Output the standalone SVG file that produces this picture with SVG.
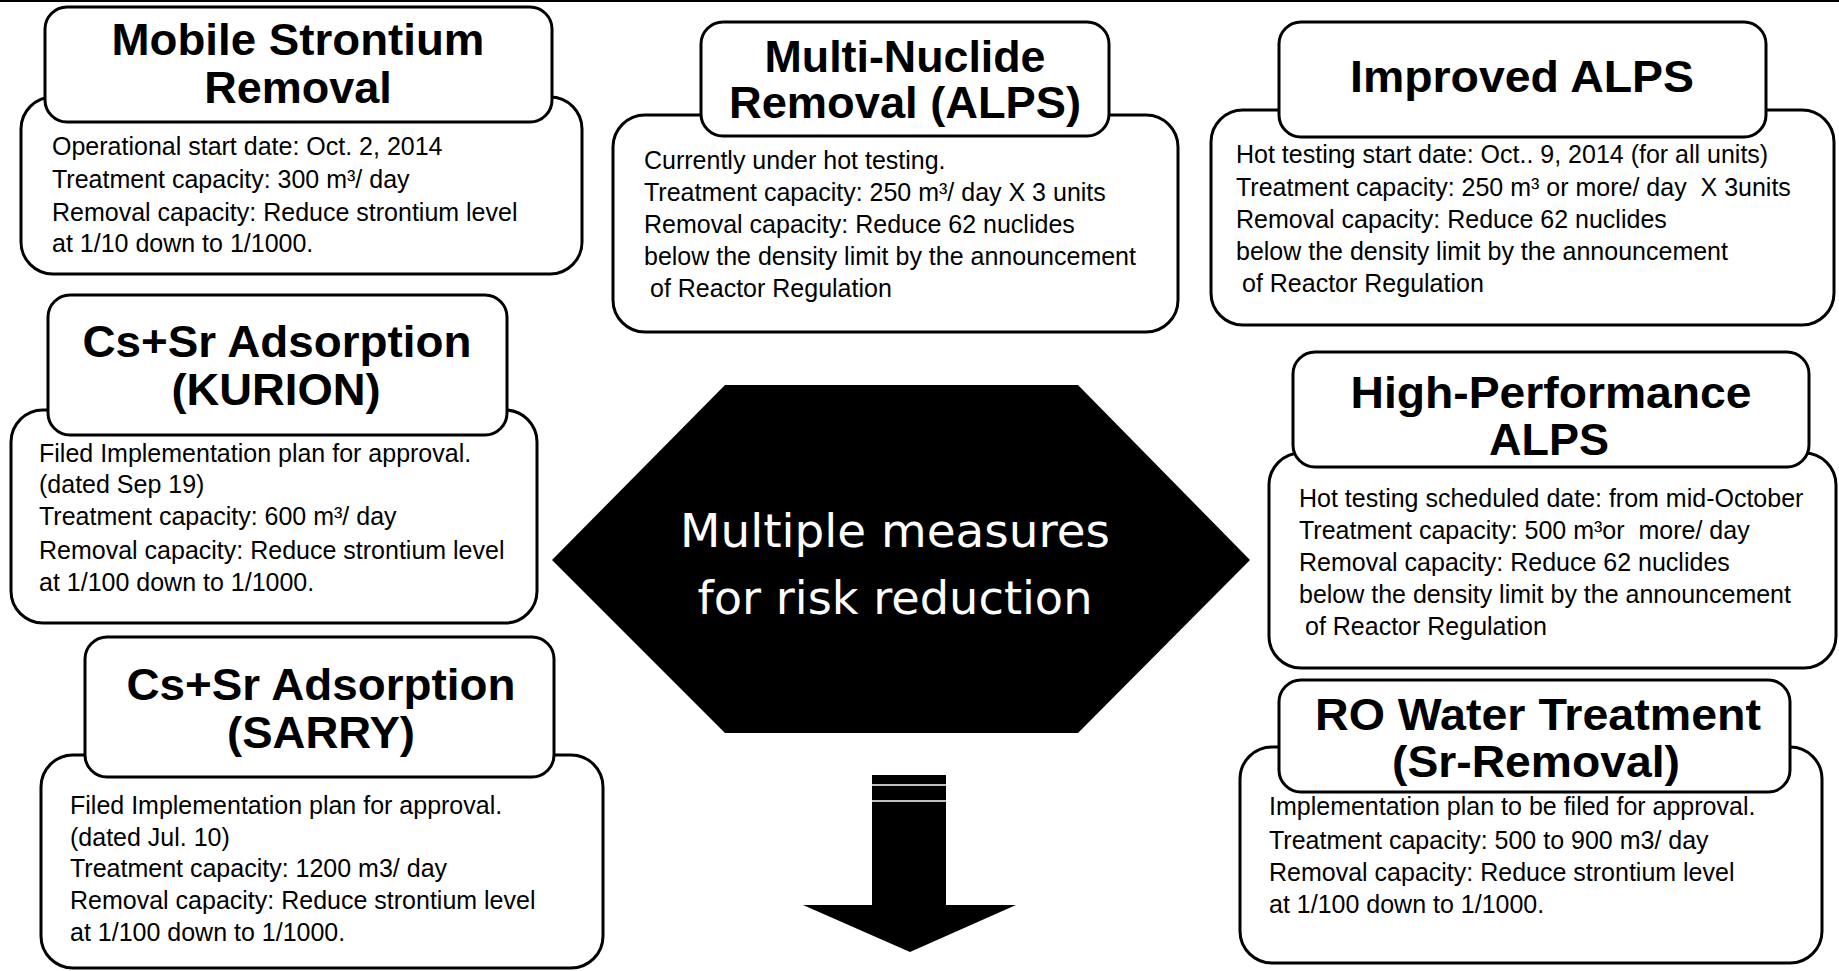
<svg xmlns="http://www.w3.org/2000/svg" width="1839" height="971" viewBox="0 0 1839 971">
<style>
.box{fill:#fff;stroke:#000;stroke-width:3}
.title{font-family:"Liberation Sans",Arial,sans-serif;font-weight:bold;font-size:45px;text-anchor:middle;fill:#000}
.body{font-family:"Liberation Sans",Arial,sans-serif;font-size:25px;fill:#000}
.hex{font-family:"DejaVu Sans","Liberation Sans",sans-serif;font-size:47px;fill:#fff;text-anchor:middle}
</style>
<rect width="1839" height="971" fill="#fff"/>
<line x1="0" y1="1" x2="1839" y2="1" stroke="#000" stroke-width="2"/>

<g id="mobile-strontium">
<rect class="box" x="21" y="97" width="561" height="177" rx="32"/>
<rect class="box" x="45" y="7" width="507" height="115" rx="22"/>
<text class="title" x="298" y="55" textLength="373" lengthAdjust="spacingAndGlyphs">Mobile Strontium</text>
<text class="title" x="298" y="103">Removal</text>
<text class="body" x="52" y="155">Operational start date: Oct. 2, 2014</text>
<text class="body" x="52" y="188">Treatment capacity: 300 m³/ day</text>
<text class="body" x="52" y="221">Removal capacity: Reduce strontium level</text>
<text class="body" x="52" y="252">at 1/10 down to 1/1000.</text>
</g>

<g id="multi-nuclide">
<rect class="box" x="613" y="115" width="565" height="217" rx="32"/>
<rect class="box" x="701" y="22" width="408" height="114" rx="22"/>
<text class="title" x="905" y="72" textLength="281" lengthAdjust="spacingAndGlyphs">Multi-Nuclide</text>
<text class="title" x="905" y="118" textLength="352" lengthAdjust="spacingAndGlyphs">Removal (ALPS)</text>
<text class="body" x="644" y="169">Currently under hot testing.</text>
<text class="body" x="644" y="201">Treatment capacity: 250 m³/ day X 3 units</text>
<text class="body" x="644" y="233">Removal capacity: Reduce 62 nuclides</text>
<text class="body" x="644" y="265">below the density limit by the announcement</text>
<text class="body" x="650" y="297">of Reactor Regulation</text>
</g>

<g id="improved-alps">
<rect class="box" x="1211" y="110" width="623" height="215" rx="32"/>
<rect class="box" x="1279" y="22" width="487" height="115" rx="22"/>
<text class="title" x="1522" y="92" textLength="344" lengthAdjust="spacingAndGlyphs">Improved ALPS</text>
<text class="body" x="1236" y="163">Hot testing start date: Oct.. 9, 2014 (for all units)</text>
<text class="body" x="1236" y="196">Treatment capacity: 250 m³ or more/ day &#160;X 3units</text>
<text class="body" x="1236" y="228">Removal capacity: Reduce 62 nuclides</text>
<text class="body" x="1236" y="260">below the density limit by the announcement</text>
<text class="body" x="1242" y="292">of Reactor Regulation</text>
</g>

<g id="kurion">
<rect class="box" x="11" y="410" width="526" height="213" rx="32"/>
<rect class="box" x="48" y="295" width="459" height="140" rx="22"/>
<text class="title" x="277" y="357" textLength="389" lengthAdjust="spacingAndGlyphs">Cs+Sr Adsorption</text>
<text class="title" x="276" y="405" textLength="209" lengthAdjust="spacingAndGlyphs">(KURION)</text>
<text class="body" x="39" y="462">Filed Implementation plan for approval.</text>
<text class="body" x="39" y="493">(dated Sep 19)</text>
<text class="body" x="39" y="525">Treatment capacity: 600 m³/ day</text>
<text class="body" x="39" y="559">Removal capacity: Reduce strontium level</text>
<text class="body" x="39" y="591">at 1/100 down to 1/1000.</text>
</g>

<g id="high-performance-alps">
<rect class="box" x="1269" y="453" width="567" height="215" rx="32"/>
<rect class="box" x="1293" y="352" width="516" height="115" rx="22"/>
<text class="title" x="1551" y="408" textLength="401" lengthAdjust="spacingAndGlyphs">High-Performance</text>
<text class="title" x="1549" y="455">ALPS</text>
<text class="body" x="1299" y="507">Hot testing scheduled date: from mid-October</text>
<text class="body" x="1299" y="539">Treatment capacity: 500 m³or &#160;more/ day</text>
<text class="body" x="1299" y="571">Removal capacity: Reduce 62 nuclides</text>
<text class="body" x="1299" y="603">below the density limit by the announcement</text>
<text class="body" x="1305" y="635">of Reactor Regulation</text>
</g>

<g id="sarry">
<rect class="box" x="41" y="755" width="562" height="213" rx="32"/>
<rect class="box" x="85" y="637" width="469" height="140" rx="22"/>
<text class="title" x="321" y="700" textLength="389" lengthAdjust="spacingAndGlyphs">Cs+Sr Adsorption</text>
<text class="title" x="321" y="748" textLength="188" lengthAdjust="spacingAndGlyphs">(SARRY)</text>
<text class="body" x="70" y="814">Filed Implementation plan for approval.</text>
<text class="body" x="70" y="846">(dated Jul. 10)</text>
<text class="body" x="70" y="877">Treatment capacity: 1200 m3/ day</text>
<text class="body" x="70" y="909">Removal capacity: Reduce strontium level</text>
<text class="body" x="70" y="941">at 1/100 down to 1/1000.</text>
</g>

<g id="ro-water-treatment">
<rect class="box" x="1240" y="747" width="582" height="216" rx="32"/>
<rect class="box" x="1279" y="680" width="511" height="112" rx="22"/>
<text class="title" x="1538" y="730" textLength="446" lengthAdjust="spacingAndGlyphs">RO Water Treatment</text>
<text class="title" x="1536" y="777" textLength="288" lengthAdjust="spacingAndGlyphs">(Sr-Removal)</text>
<text class="body" x="1269" y="815">Implementation plan to be filed for approval.</text>
<text class="body" x="1269" y="849">Treatment capacity: 500 to 900 m3/ day</text>
<text class="body" x="1269" y="881">Removal capacity: Reduce strontium level</text>
<text class="body" x="1269" y="913">at 1/100 down to 1/1000.</text>
</g>

<g id="risk-reduction">
<polygon points="725,385 1078,385 1250,560 1078,733 725,733 552,560" fill="#000"/>
<text class="hex" x="895" y="547" textLength="430" lengthAdjust="spacingAndGlyphs">Multiple measures</text>
<text class="hex" x="895" y="614" textLength="395" lengthAdjust="spacingAndGlyphs">for risk reduction</text>
</g>

<g id="connectors">
<polygon points="872,775 946,775 946,905 1016,905 910,952 803,905 872,905" fill="#000"/>
<line x1="872" y1="785" x2="946" y2="785" stroke="#fff" stroke-width="1.6"/>
<line x1="872" y1="801" x2="946" y2="801" stroke="#fff" stroke-width="1.6"/>
</g>
</svg>
